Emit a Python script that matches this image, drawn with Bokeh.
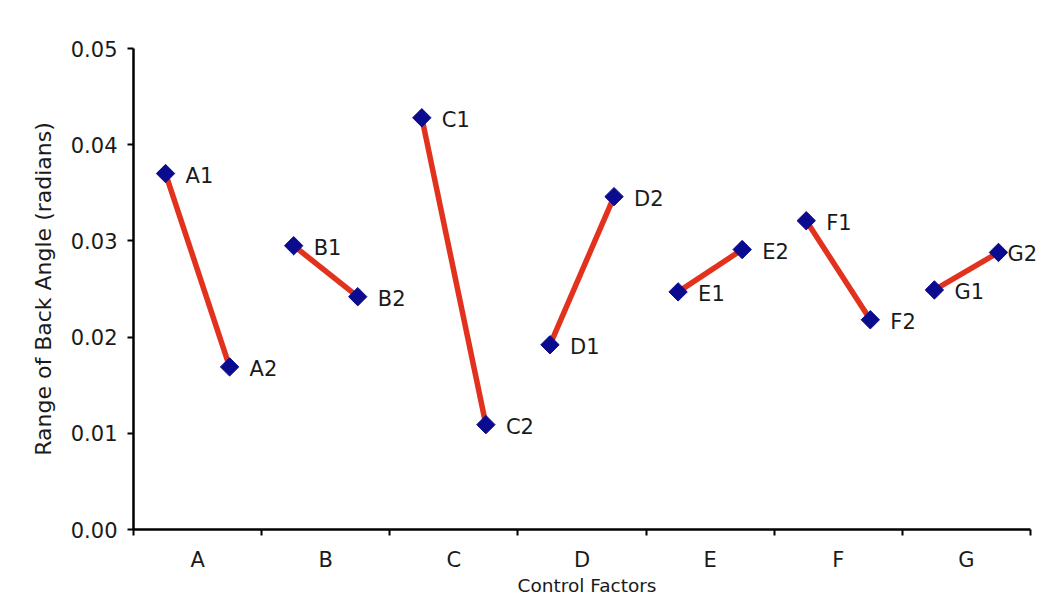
from bokeh.plotting import figure
from bokeh.models import ColumnDataSource, Range1d, FixedTicker, PrintfTickFormatter
from bokeh.core.properties import value
from bokeh.embed import file_html
from bokeh.resources import INLINE
import math

factors = ["A", "B", "C", "D", "E", "F", "G"]
level1 = [0.0370, 0.0295, 0.0428, 0.0192, 0.0247, 0.0321, 0.0249]
level2 = [0.0169, 0.0242, 0.0109, 0.0346, 0.0291, 0.0218, 0.0288]
level_pos = [0.25, 0.75]
y_ticks = [0.0, 0.01, 0.02, 0.03, 0.04, 0.05]

FONT = "DejaVu Sans"
LINE_COLOR = "#e2311d"
MARK_COLOR = "#0b0b8f"
TEXT_COLOR = "#1a1a1a"

xs, ys, names, seg_x, seg_y = [], [], [], [], []
for i, f in enumerate(factors):
    x1 = i + level_pos[0]
    x2 = i + level_pos[1]
    xs += [x1, x2]
    ys += [level1[i], level2[i]]
    names += [f + "1", f + "2"]
    seg_x.append([x1, x2])
    seg_y.append([level1[i], level2[i]])

# label offset: last label sits tight against the right edge
offs = [20] * len(names)
offs[-1] = 9

pts = ColumnDataSource(dict(x=xs, y=ys, name=names, off=offs))
segs = ColumnDataSource(dict(xs=seg_x, ys=seg_y))

n = len(factors)
W, H = 1040, 598
left, right, top = 133, 0, 48
frame_bottom = 529
bottom = H - frame_bottom
x_end = n * (W - left - right) / (1030 - left)

p = figure(width=W, height=H, output_backend="svg", toolbar_location=None,
           x_range=Range1d(0, x_end), y_range=Range1d(0, 0.05),
           min_border_left=left, min_border_right=right,
           min_border_top=top, min_border_bottom=bottom,
           background_fill_color="white", border_fill_color="white")
p.outline_line_color = None
p.xgrid.visible = False
p.ygrid.visible = False

p.multi_line("xs", "ys", source=segs, line_color=LINE_COLOR, line_width=5.5)
p.scatter("x", "y", source=pts, marker="square", angle=math.pi / 4, size=13,
          fill_color=MARK_COLOR, line_color=MARK_COLOR)
p.text("x", "y", text="name", source=pts, x_offset="off", y_offset=2,
       text_font=value(FONT), text_font_size="21px", text_color=TEXT_COLOR,
       text_baseline="middle", text_align="left")

# x axis
xa = p.xaxis[0]
xa.bounds = (0, n)
xa.ticker = FixedTicker(ticks=[i + 0.5 for i in range(n)],
                        minor_ticks=list(range(n + 1)))
xa.major_label_overrides = {i + 0.5: f for i, f in enumerate(factors)}
xa.major_tick_in = 0
xa.major_tick_out = 0
xa.minor_tick_in = 0
xa.minor_tick_out = 6
xa.minor_tick_line_width = 2
xa.minor_tick_line_color = "black"
xa.axis_line_width = 2.5
xa.axis_line_color = "black"
xa.major_label_standoff = 12
xa.major_label_text_font = FONT
xa.major_label_text_font_size = "21px"
xa.major_label_text_color = TEXT_COLOR
xa.axis_label = "Control Factors"
xa.axis_label_text_font = FONT
xa.axis_label_text_font_size = "18.5px"
xa.axis_label_text_font_style = "normal"
xa.axis_label_text_color = TEXT_COLOR
xa.axis_label_standoff = 0

ya = p.yaxis[0]
ya.ticker = FixedTicker(ticks=y_ticks, minor_ticks=[])
ya.formatter = PrintfTickFormatter(format="%.2f")
ya.major_tick_in = 0
ya.major_tick_out = 6
ya.major_tick_line_width = 2
ya.axis_line_width = 2.5
ya.axis_line_color = "black"
ya.major_label_standoff = 10
ya.major_label_text_font = FONT
ya.major_label_text_font_size = "21px"
ya.major_label_text_color = TEXT_COLOR
ya.axis_label = "Range of Back Angle (radians)"
ya.axis_label_text_font = FONT
ya.axis_label_text_font_size = "22px"
ya.axis_label_text_font_style = "normal"
ya.axis_label_text_color = TEXT_COLOR
ya.axis_label_standoff = 12

open("out.html", "w").write(file_html(p, INLINE))
